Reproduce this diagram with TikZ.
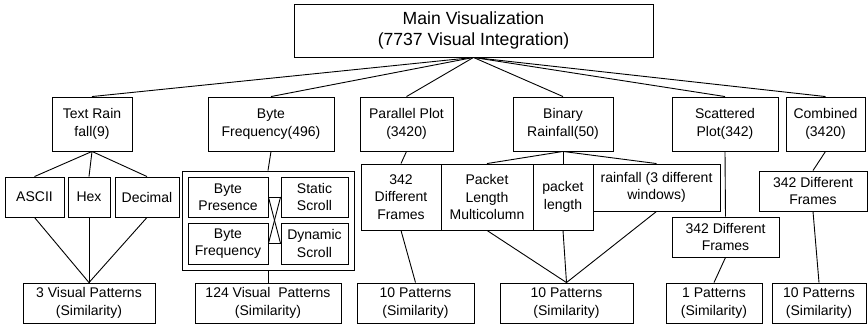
\documentclass[tikz,border=0pt]{standalone}
\usepackage{fontspec}
\setmainfont{Liberation Sans}
\usepackage{tikz}

\begin{document}
\begin{tikzpicture}[x=1pt, y=-1pt,
	box/.style={draw, line width=0.9pt, inner sep=0pt, align=center, font=\fontsize{14}{17.3}\selectfont},
	link/.style={draw, line width=0.9pt}]
	\useasboundingbox (0,0) rectangle (868,327);
	% top
	\node[box, minimum width=359, minimum height=53, font=\fontsize{17.6}{21}\selectfont] (main) at (473.5,30.5) {Main Visualization\\(7737 Visual Integration)};
	% second row
	\node[box, minimum width=80, minimum height=54] (textrain) at (92,124) {Text Rain\\fall(9)};
	\node[box, minimum width=126, minimum height=54] (bytefreq) at (271,124) {Byte\\Frequency(496)};
	\node[box, minimum width=93, minimum height=54] (parplot) at (406.5,124) {Parallel Plot\\(3420)};
	\node[box, minimum width=100, minimum height=54] (binrain) at (563,124) {Binary\\Rainfall(50)};
	\node[box, minimum width=106, minimum height=54] (scatplot) at (725,124) {Scattered\\Plot(342)};
	\node[box, minimum width=79, minimum height=54] (combined) at (825.5,124) {Combined\\(3420)};
	\draw[link] (main.south) -- (textrain.north);
	\draw[link] (main.south) -- (bytefreq.north);
	\draw[link] (main.south) -- (parplot.north);
	\draw[link] (main.south) -- (binrain.north);
	\draw[link] (main.south) -- (scatplot.north);
	\draw[link] (main.south) -- (combined.north);
	% text rain
	\node[box, minimum width=59, minimum height=40] (ascii) at (34.5,197) {ASCII};
	\node[box, minimum width=42, minimum height=40] (hex) at (89,197) {Hex};
	\node[box, minimum width=64, minimum height=40] (decimal) at (147,197) {Decimal};
	\draw[link] (textrain.south) -- (ascii.north);
	\draw[link] (textrain.south) -- (hex.north);
	\draw[link] (textrain.south) -- (decimal.north);
	% byte frequency
	\node[box, minimum width=172, minimum height=99] (group) at (268,220.5) {};
	\node[box, minimum width=80, minimum height=40] (bpres) at (228,197) {Byte\\Presence};
	\node[box, minimum width=67, minimum height=40] (sscroll) at (314.5,197) {Static\\Scroll};
	\node[box, minimum width=80, minimum height=41] (bfreq) at (228,243.5) {Byte\\Frequency};
	\node[box, minimum width=67, minimum height=41] (dscroll) at (314.5,243.5) {Dynamic\\Scroll};
	\draw[link] (bytefreq.south) -- (group.north);
	\draw[link] (bpres.east) -- (sscroll.west);
	\draw[link] (bpres.east) -- (dscroll.west);
	\draw[link] (bfreq.east) -- (sscroll.west);
	\draw[link] (bfreq.east) -- (dscroll.west);
	% parallel plot
	\node[box, minimum width=80, minimum height=66] (frames1) at (401,197) {342\\Different\\Frames};
	\draw[link] (parplot.south) -- (frames1.north);
	% binary rainfall
	\node[box, minimum width=92, minimum height=66] (plm) at (487,197) {Packet\\Length\\Multicolumn};
	\node[box, minimum width=60, minimum height=66] (plen) at (563,197) {packet\\length};
	\node[box, minimum width=127, minimum height=47] (rainfall) at (656.5,187.5) {rainfall (3 different\\windows)};
	\draw[link] (binrain.south) -- (plm.north);
	\draw[link] (binrain.south) -- (plen.north);
	\draw[link] (binrain.south) -- (rainfall.north);
	% scattered plot and combined
	\node[box, minimum width=107, minimum height=40] (frames2) at (725.5,237) {342 Different\\Frames};
	\node[box, minimum width=108, minimum height=40] (frames3) at (813,191) {342 Different\\Frames};
	\draw[link] (scatplot.south) -- (frames2.north);
	\draw[link] (combined.south) -- (frames3.north);
	% patterns
	\node[box, minimum width=132, minimum height=40] (pat1) at (89,303) {3 Visual Patterns\\(Similarity)};
	\node[box, minimum width=146, minimum height=40] (pat2) at (268,303) {124 Visual~~Patterns\\(Similarity)};
	\node[box, minimum width=117, minimum height=40] (pat3) at (415.5,303) {10 Patterns\\(Similarity)};
	\node[box, minimum width=133, minimum height=40] (pat4) at (566.5,303) {10 Patterns\\(Similarity)};
	\node[box, minimum width=96, minimum height=40] (pat5) at (714,303) {1 Patterns\\(Similarity)};
	\node[box, minimum width=94, minimum height=40] (pat6) at (819,303) {10 Patterns\\(Similarity)};
	\draw[link] (ascii.south) -- (pat1.north);
	\draw[link] (hex.south) -- (pat1.north);
	\draw[link] (decimal.south) -- (pat1.north);
	\draw[link] (group.south) -- (pat2.north);
	\draw[link] (frames1.south) -- (pat3.north);
	\draw[link] (plm.south) -- (pat4.north);
	\draw[link] (plen.south) -- (pat4.north);
	\draw[link] (rainfall.south) -- (pat4.north);
	\draw[link] (frames2.south) -- (pat5.north);
	\draw[link] (frames3.south) -- (pat6.north);
\end{tikzpicture}
\end{document}
